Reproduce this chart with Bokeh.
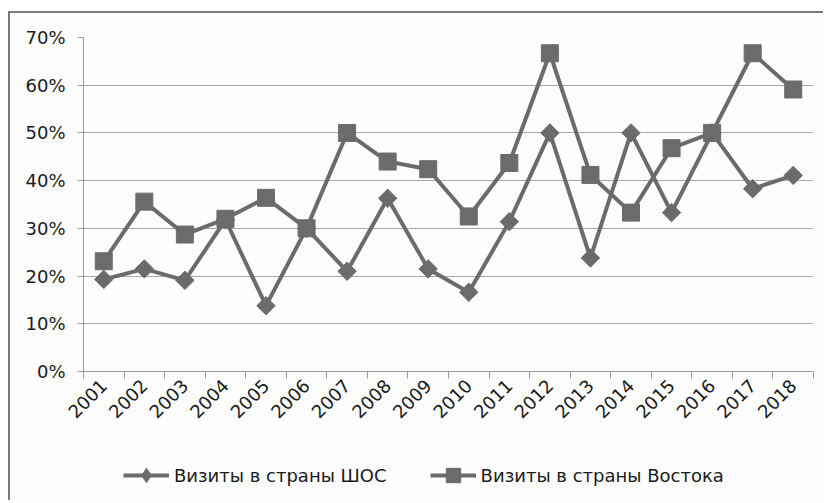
import math
from bokeh.plotting import figure
from bokeh.layouts import column
from bokeh.models import (Range1d, FixedTicker, NumeralTickFormatter, Legend, LegendItem)
from bokeh.embed import file_html
from bokeh.resources import INLINE

years = list(range(2001, 2019))
year_labels = [str(y) for y in years]
sco_visits = [0.193, 0.215, 0.191, 0.318, 0.138, 0.300, 0.210, 0.363, 0.215, 0.166,
              0.314, 0.500, 0.238, 0.500, 0.333, 0.500, 0.383, 0.411]
east_visits = [0.231, 0.356, 0.287, 0.320, 0.364, 0.300, 0.500, 0.440, 0.424, 0.325,
               0.437, 0.667, 0.412, 0.333, 0.468, 0.500, 0.667, 0.591]
y_ticks = [0, 0.1, 0.2, 0.3, 0.4, 0.5, 0.6, 0.7]
sco_name = "Визиты в страны ШОС"
east_name = "Визиты в страны Востока"

FONT = "DejaVu Sans"
GREY = "#6b6b6b"
BG = "#fdfdfd"

p = figure(width=813, height=433, output_backend="svg", toolbar_location=None,
           x_range=Range1d(years[0] - 0.5, years[-1] + 0.5),
           y_range=Range1d(0, 0.7),
           min_border_left=73, min_border_right=10, min_border_top=24, min_border_bottom=75)
p.outline_line_color = None
p.background_fill_color = BG
p.border_fill_color = BG

# axes
xa = p.xaxis[0]
xa.ticker = FixedTicker(ticks=years, minor_ticks=[y - 0.5 for y in years] + [years[-1] + 0.5])
xa.major_label_overrides = {y: s for y, s in zip(years, year_labels)}
xa.major_tick_out = 0
xa.major_tick_in = 0
xa.minor_tick_out = 7
xa.minor_tick_in = 0
xa.minor_tick_line_color = "#9a9a9a"
xa.axis_line_color = "#9a9a9a"
xa.major_label_orientation = math.pi / 4
xa.major_label_text_font = FONT
xa.major_label_text_font_size = "18px"
xa.major_label_text_color = "#1a1a1a"
xa.major_label_standoff = 4

ya = p.yaxis[0]
ya.ticker = FixedTicker(ticks=y_ticks)
ya.formatter = NumeralTickFormatter(format="0%")
ya.major_tick_out = 6
ya.major_tick_in = 0
ya.minor_tick_out = 0
ya.minor_tick_in = 0
ya.major_tick_line_color = "#9a9a9a"
ya.axis_line_color = "#9a9a9a"
ya.major_label_text_font = FONT
ya.major_label_text_font_size = "18px"
ya.major_label_text_color = "#1a1a1a"
ya.major_label_standoff = 12

p.xgrid.grid_line_color = None
p.ygrid.ticker = FixedTicker(ticks=y_ticks[1:])
p.ygrid.grid_line_color = "#a8a8a8"

# series
def draw(fig, sco_marker, sco_angle, sco_size):
    l1 = fig.line(years, sco_visits, line_color=GREY, line_width=4)
    m1 = fig.scatter(years, sco_visits, marker=sco_marker, angle=sco_angle, size=sco_size,
                     fill_color=GREY, line_color=GREY)
    l2 = fig.line(years, east_visits, line_color=GREY, line_width=4)
    m2 = fig.scatter(years, east_visits, marker="square", size=17, fill_color=GREY, line_color=GREY)
    return l1, m1, l2, m2

draw(p, "square", math.pi / 4, 13)

# legend strip (same series, outside its visible range; only the legend shows)
p2 = figure(width=813, height=54, output_backend="svg", toolbar_location=None,
            x_range=Range1d(0, 1), y_range=Range1d(0, 1),
            min_border_left=0, min_border_right=0, min_border_top=0, min_border_bottom=0)
p2.axis.visible = False
p2.grid.visible = False
p2.outline_line_color = None
p2.background_fill_color = BG
p2.border_fill_color = BG
l1, m1, l2, m2 = draw(p2, "diamond", 0, 18)

legend = Legend(items=[LegendItem(label=sco_name, renderers=[l1, m1]),
                       LegendItem(label=east_name, renderers=[l2, m2])],
                orientation="horizontal", location=(40, 7), margin=0, padding=0,
                glyph_width=46, glyph_height=36, label_height=36, label_standoff=5, spacing=43,
                label_text_font=FONT, label_text_font_size="18px", label_text_color="#1a1a1a",
                border_line_color=None, background_fill_alpha=0)
p2.add_layout(legend, "center")

layout = column(p, p2, spacing=0)
layout.styles = {"border-left": "2px solid #7a7a7a", "border-top": "2px solid #7a7a7a",
                 "margin-top": "11px", "margin-left": "8px", "background-color": BG}

open("out.html", "w").write(file_html(layout, INLINE))
